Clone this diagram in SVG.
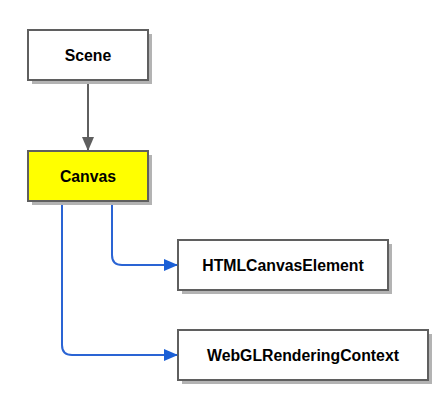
<svg xmlns="http://www.w3.org/2000/svg" width="448" height="401" viewBox="0 0 448 401">
<style>
.box{stroke:#5f5f5f;stroke-width:2}
.sh{fill:#b3b3b3}
.t{font-family:"Liberation Sans",Arial,sans-serif;font-weight:bold;font-size:15.8px;fill:#000;text-anchor:middle;dominant-baseline:central}
.c{fill:none;stroke-width:2}
</style>
<defs>
<marker id="ag" markerWidth="14" markerHeight="12" refX="13" refY="6" orient="auto" markerUnits="userSpaceOnUse"><path d="M0,0 L14,6 L0,12 Z" fill="#5f5f5f"/></marker>
<marker id="ab" markerWidth="14" markerHeight="12" refX="13" refY="6" orient="auto" markerUnits="userSpaceOnUse"><path d="M0,0 L14,6 L0,12 Z" fill="#1a5fd6"/></marker>
</defs>
<rect width="448" height="401" fill="#fff"/>
<g id="connectors">
<path class="c" d="M88,81 V150" stroke="#5f5f5f" marker-end="url(#ag)"/>
<path class="c" d="M112,202 V255 Q112,265 122,265 H177" stroke="#2a64d4" marker-end="url(#ab)"/>
<path class="c" d="M62,202 V345 Q62,355 72,355 H177" stroke="#2a64d4" marker-end="url(#ab)"/>
</g>
<g id="scene">
<rect class="sh" x="32" y="34" width="120" height="50"/>
<rect class="box" x="28" y="30" width="120" height="50" fill="#fff"/>
<text class="t" x="88" y="55">Scene</text>
</g>
<g id="canvas">
<rect class="sh" x="32" y="155" width="120" height="50"/>
<rect class="box" x="28" y="151" width="120" height="50" fill="#ffff00"/>
<text class="t" x="88" y="176">Canvas</text>
</g>
<g id="htmlcanvaselement">
<rect class="sh" x="182" y="244" width="210" height="50"/>
<rect class="box" x="178" y="240" width="210" height="50" fill="#fff"/>
<text class="t" x="283" y="265">HTMLCanvasElement</text>
</g>
<g id="webglrenderingcontext">
<rect class="sh" x="182" y="334" width="250" height="50"/>
<rect class="box" x="178" y="330" width="250" height="50" fill="#fff"/>
<text class="t" x="303" y="355">WebGLRenderingContext</text>
</g>
</svg>
